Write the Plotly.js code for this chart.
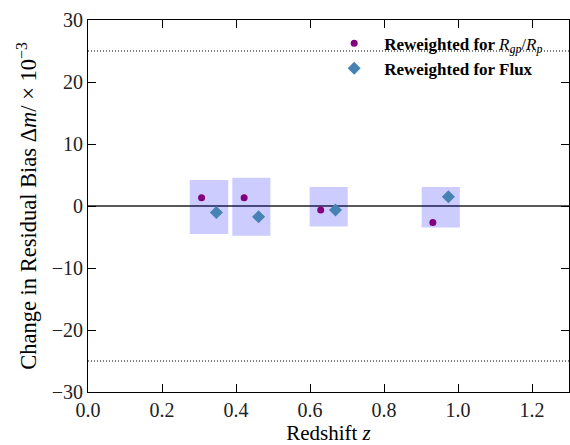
<!DOCTYPE html>
<html>
<head>
<meta charset="utf-8">
<script src="https://cdn.plot.ly/plotly-3.0.1.min.js"></script>
<style>html,body{margin:0;padding:0;background:#fff;}</style>
</head>
<body>
<div id="chart" style="width:570px;height:445px;"></div>
<script>
// Data
const zRgp = [0.307, 0.422, 0.629, 0.932];
const dmRgp = [1.35, 1.35, -0.65, -2.65];
const zFlux = [0.347, 0.461, 0.669, 0.974];
const dmFlux = [-1.05, -1.75, -0.65, 1.5];
// shaded uncertainty boxes per redshift bin
const boxZlo = [0.275, 0.390, 0.599, 0.902];
const boxZhi = [0.379, 0.493, 0.702, 1.005];
const boxLo = [-4.5, -4.8, -3.3, -3.45];
const boxHi = [4.2, 4.55, 3.05, 3.05];
const refLines = [25, -25];
const xTicks = [0, 0.2, 0.4, 0.6, 0.8, 1.0, 1.2];
const yTicks = [-30, -20, -10, 0, 10, 20, 30];

const FONT = "Liberation Serif";

const shapes = [];
for (let i = 0; i < boxZlo.length; i++) {
  shapes.push({type:'rect', xref:'x', yref:'y', x0:boxZlo[i], x1:boxZhi[i], y0:boxLo[i], y1:boxHi[i],
    fillcolor:'rgba(0,0,255,0.2)', line:{width:0}, layer:'below'});
}
refLines.forEach(v => shapes.push({type:'line', xref:'paper', yref:'y', x0:0, x1:1, y0:v, y1:v,
  line:{color:'black', width:1, dash:'1px,2px'}}));
shapes.push({type:'line', xref:'paper', yref:'y', x0:0, x1:1, y0:0, y1:0, line:{color:'#222', width:1.3}, layer:'below'});

const traces = [
  {x:zRgp, y:dmRgp, mode:'markers', type:'scatter', name:'<b>Reweighted for </b><i>R</i><sub><i>gp</i></sub>/<i>R</i><sub><i>p</i></sub>',
   marker:{symbol:'circle', size:7, color:'#800080'}},
  {x:zFlux, y:dmFlux, mode:'markers', type:'scatter', name:'<b>Reweighted for Flux</b>',
   marker:{symbol:'diamond', size:10, color:'#4682B4'}}
];

const axisCommon = {showline:true, linecolor:'black', linewidth:1, mirror:'allticks', ticks:'inside',
  ticklen:8, tickwidth:1, tickcolor:'black', showgrid:false, zeroline:false,
  tickfont:{family:FONT, size:20, color:'#222'}};

const layout = {
  width:570, height:445,
  margin:{l:88, r:1, t:19.5, b:52.5},
  paper_bgcolor:'white', plot_bgcolor:'white',
  font:{family:FONT, color:'black'},
  showlegend:true,
  legend:{x:0.491, y:0.985, xanchor:'left', yanchor:'top', bgcolor:'rgba(0,0,0,0)', itemwidth:50,
    font:{family:FONT, size:17, color:'black'}},
  xaxis:Object.assign({}, axisCommon, {range:[0, 1.3], tickvals:xTicks, tickformat:'.1f',
    title:{text:'Redshift <i>z</i>', font:{family:FONT, size:21}, standoff:11}}),
  yaxis:Object.assign({}, axisCommon, {range:[-30, 30], tickvals:yTicks,
    title:{text:'Change in Residual Bias Δ<i>m</i>/ × 10<sup>−3</sup>', font:{family:FONT, size:22.5}, standoff:8}}),
  shapes:shapes
};

Plotly.newPlot('chart', traces, layout, {displayModeBar:false, staticPlot:true});
</script>
</body>
</html>
